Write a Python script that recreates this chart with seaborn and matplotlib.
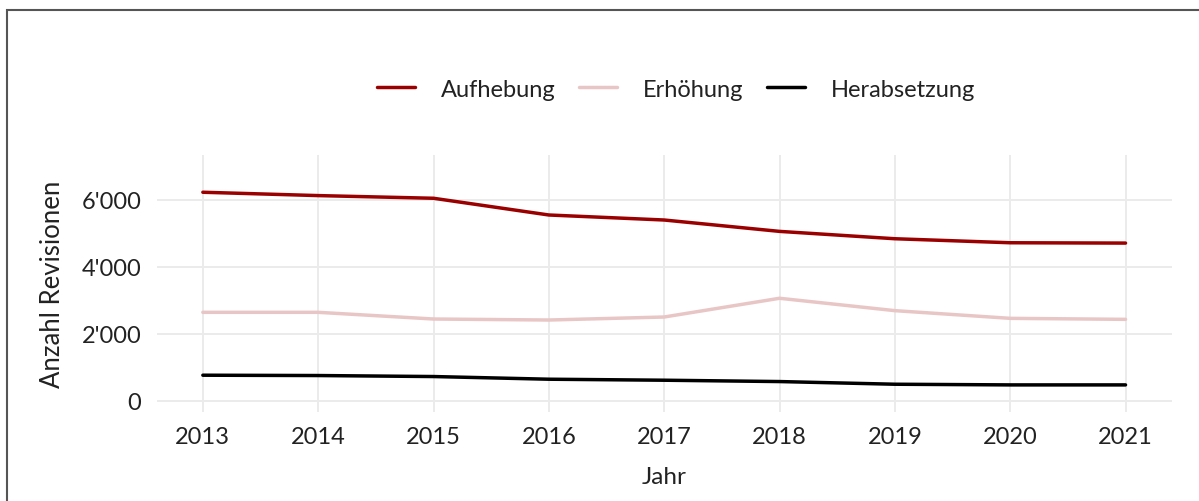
# Revisionen pro Jahr nach Art

import numpy as np
import pandas as pd
import seaborn as sns
import matplotlib.pyplot as plt
from matplotlib.ticker import FuncFormatter
from matplotlib.patches import Rectangle

# Daten
jahre = [2013, 2014, 2015, 2016, 2017, 2018, 2019, 2020, 2021]
aufhebung = [6230, 6130, 6050, 5550, 5400, 5060, 4840, 4720, 4710]
erhoehung = [2640, 2640, 2440, 2410, 2500, 3060, 2690, 2460, 2430]
herabsetzung = [760, 750, 720, 640, 610, 570, 490, 470, 470]
arten = ['Aufhebung', 'Erhöhung', 'Herabsetzung']
farben = ['#9b0000', '#e8c6c6', '#000000']

df = pd.DataFrame({
    'Jahr': jahre * 3,
    'Anzahl': aufhebung + erhoehung + herabsetzung,
    'Art': np.repeat(arten, len(jahre)),
})

sns.set_theme(style='whitegrid')
plt.rcParams['font.family'] = ['Lato', 'DejaVu Sans']

fig = plt.figure(figsize=(11.99, 5.02), dpi=100)
ax = fig.add_axes([0.1307, 0.1773, 0.8465, 0.5117])

sns.lineplot(data=df, x='Jahr', y='Anzahl', hue='Art', hue_order=arten,
             palette=dict(zip(arten, farben)), linewidth=2.5, ax=ax)

ax.set_xlim(2012.6, 2021.4)
ax.set_ylim(-340, 7340)
ax.set_xticks(jahre)
ax.set_yticks([0, 2000, 4000, 6000])
ax.yaxis.set_major_formatter(FuncFormatter(lambda v, p: f"{int(v):,}".replace(',', "'")))
ax.tick_params(axis='both', labelsize=17, colors='#222222', length=0)
ax.tick_params(axis='x', pad=10)
ax.tick_params(axis='y', pad=11)
ax.grid(color='#ebebeb', linewidth=1.4)
ax.set_facecolor('white')
for s in ax.spines.values():
    s.set_visible(False)

ax.set_xlabel('Jahr', fontsize=17.5, color='#222222', labelpad=14)
ax.set_ylabel('Anzahl Revisionen', fontsize=18.5, color='#222222', labelpad=12)

leg = ax.legend(loc='center', bbox_to_anchor=(0.512, 1.0 + 66 / 257), ncol=3,
                frameon=False, fontsize=17, handlelength=1.6, columnspacing=1.0,
                handletextpad=1.1, title=None)
for t in leg.get_texts():
    t.set_color('#222222')

# Rahmen um die Abbildung
fig.patches.append(Rectangle((7 / 1199, -0.05), 1.2, 1 - 11 / 502 + 0.05,
                             transform=fig.transFigure, fill=False,
                             edgecolor='#555555', linewidth=1.5))

fig.savefig('out.png', dpi=100, facecolor='white')
